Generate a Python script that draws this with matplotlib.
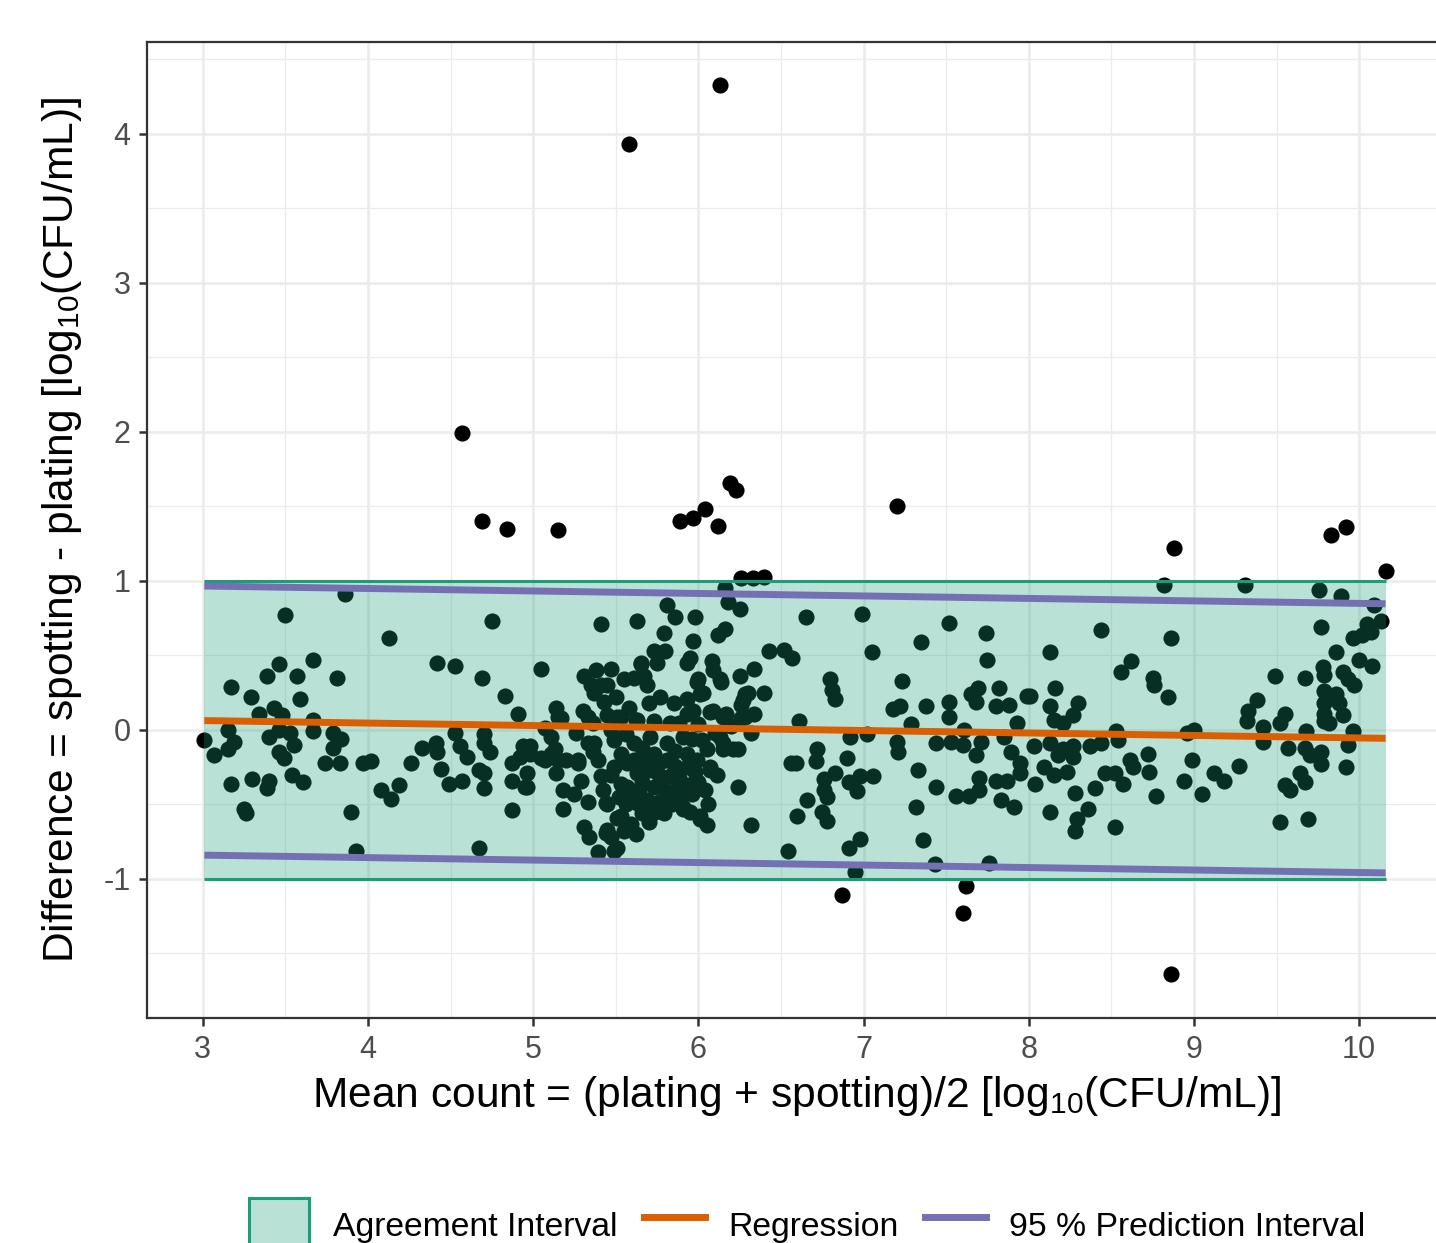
import numpy as np
import matplotlib
matplotlib.use("Agg")
import matplotlib.pyplot as plt
from matplotlib.patches import Patch
from matplotlib.lines import Line2D

plt.rcParams['font.family'] = ['Liberation Sans', 'DejaVu Sans']
plt.rcParams['mathtext.fontset'] = 'custom'
plt.rcParams['mathtext.rm'] = 'Liberation Sans'
plt.rcParams['mathtext.it'] = 'Liberation Sans'
plt.rcParams['axes.unicode_minus'] = False

# points: (mean count, difference)
outliers = [(6.13, 4.33), (5.58, 3.93), (4.57, 1.99), (4.69, 1.40), (4.84, 1.35), (5.15, 1.34),
            (5.89, 1.40), (5.97, 1.42), (6.04, 1.48), (6.12, 1.37), (6.19, 1.66), (6.23, 1.61),
            (7.20, 1.50), (8.88, 1.22), (9.83, 1.31), (9.92, 1.36), (10.16, 1.07), (6.87, -1.11),
            (7.60, -1.23), (7.62, -1.05), (8.86, -1.64), (6.26, 1.02), (6.33, 1.02), (6.40, 1.03)]

pts_3_to_45 = [(3.01, -0.07), (3.86, 0.91), (3.50, 0.77), (4.13, 0.62), (3.17, 0.29), (3.29, 0.22),
               (3.39, 0.36), (3.46, 0.44), (3.57, 0.36), (3.67, 0.47), (3.81, 0.35), (3.59, 0.21),
               (4.42, 0.45), (3.34, 0.11), (3.43, 0.15), (3.48, 0.10), (3.67, 0.07), (3.15, 0.00),
               (3.19, -0.08), (3.07, -0.17), (3.15, -0.13), (3.40, -0.05), (3.46, 0.00), (3.53, -0.02),
               (3.55, -0.10), (3.46, -0.15), (3.49, -0.19), (3.67, -0.01), (3.79, -0.02), (3.84, -0.06),
               (3.79, -0.12), (3.74, -0.22), (3.83, -0.22), (3.97, -0.22), (4.02, -0.21), (3.54, -0.30),
               (3.61, -0.35), (3.30, -0.33), (3.17, -0.36), (3.40, -0.34), (3.39, -0.39), (3.25, -0.53),
               (3.26, -0.56), (3.90, -0.55), (3.93, -0.81), (4.08, -0.40), (4.14, -0.46), (4.19, -0.37),
               (4.26, -0.22), (4.33, -0.12), (4.41, -0.09), (4.42, -0.15), (4.44, -0.26), (4.49, -0.36)]

pts_45_to_55 = [(4.75, 0.73), (5.41, 0.71), (4.53, 0.43), (4.69, 0.35), (5.05, 0.41), (4.83, 0.23),
                (4.91, 0.11), (5.14, 0.15), (5.15, 0.09), (5.31, 0.36), (5.38, 0.40), (5.47, 0.41),
                (5.41, 0.30), (5.43, 0.19), (5.30, 0.13), (5.26, -0.02), (5.07, 0.01), (5.11, -0.05),
                (4.53, -0.02), (4.56, -0.11), (4.70, -0.03), (4.70, -0.09), (4.74, -0.15), (4.60, -0.18),
                (4.67, -0.27), (4.70, -0.29), (4.57, -0.34), (4.70, -0.39), (4.87, -0.22), (4.92, -0.18),
                (4.98, -0.11), (4.96, -0.29), (4.87, -0.34), (4.95, -0.38), (4.87, -0.54), (4.67, -0.79),
                (5.11, -0.16), (5.05, -0.19), (5.14, -0.29), (5.20, -0.20), (5.27, -0.20), (5.33, -0.09),
                (5.18, -0.40), (5.18, -0.53), (5.33, -0.48), (5.45, -0.50), (5.31, -0.65), (5.34, -0.72),
                (5.44, -0.69), (5.39, -0.82), (5.49, -0.81), (5.51, -0.59), (5.37, 0.25), (5.17, 0.08),
                (5.33, 0.09), (5.45, 0.10), (4.94, -0.11), (4.98, -0.16), (5.13, -0.13), (5.15, -0.20),
                (5.07, -0.20), (4.96, -0.38), (5.27, -0.22), (5.29, -0.34), (5.25, -0.43), (5.37, -0.09),
                (5.39, -0.20), (5.41, -0.31), (5.44, -0.49), (5.45, -0.67), (5.49, -0.07), (5.53, -0.16),
                (5.49, -0.25), (5.53, -0.36), (5.53, -0.58), (5.35, 0.30), (5.45, 0.30), (5.50, 0.22),
                (5.36, 0.05), (5.47, 0.00), (5.36, -0.15), (5.42, -0.40), (5.47, -0.30)]

pts_55_to_65 = [(6.16, 0.95), (6.18, 0.86), (6.25, 0.81), (5.81, 0.84), (5.86, 0.76), (5.63, 0.73),
                (5.98, 0.76), (5.79, 0.65), (5.97, 0.60), (6.12, 0.64), (6.16, 0.68), (5.73, 0.53),
                (5.80, 0.53), (5.95, 0.48), (5.93, 0.45), (5.65, 0.45), (6.08, 0.46), (6.09, 0.40),
                (6.34, 0.41), (6.43, 0.53), (6.52, 0.54), (5.55, 0.34), (5.67, 0.36), (5.69, 0.30),
                (5.99, 0.32), (6.14, 0.32), (6.25, 0.36), (6.40, 0.25), (6.28, 0.24), (5.77, 0.22),
                (5.85, 0.18), (5.93, 0.21), (6.01, 0.24), (6.26, 0.17), (5.93, 0.11), (6.07, 0.12),
                (6.15, 0.09), (6.28, 0.09), (5.51, 0.09), (5.63, 0.07), (5.73, 0.06), (6.32, -0.02),
                (6.21, -0.13), (6.15, -0.09), (6.07, -0.27), (5.94, -0.37), (6.24, -0.38), (5.91, -0.53),
                (6.01, -0.58), (6.05, -0.64), (6.32, -0.64), (6.54, -0.81), (5.47, -0.72), (5.51, -0.79),
                (5.57, -0.65), (5.79, -0.56), (6.56, -0.22), (5.61, 0.35), (5.65, 0.44), (5.75, 0.45),
                (6.00, 0.34), (6.13, 0.34), (5.53, 0.09), (5.62, 0.07), (5.83, 0.05), (5.97, 0.13),
                (6.09, 0.13), (6.17, 0.11), (6.27, 0.20), (6.30, 0.25), (6.26, 0.08), (6.34, 0.11),
                (6.03, 0.25), (5.61, -0.09), (5.61, -0.20), (5.63, -0.29), (5.59, -0.43), (5.63, -0.49),
                (5.59, -0.63), (5.71, -0.05), (5.73, -0.16), (5.71, -0.27), (5.73, -0.38), (5.69, -0.47),
                (5.81, -0.09), (5.81, -0.20), (5.83, -0.31), (5.81, -0.43), (5.91, -0.05), (5.93, -0.16),
                (5.93, -0.25), (5.91, -0.52), (6.02, -0.07), (6.05, -0.13), (6.07, -0.25), (6.01, -0.60),
                (6.13, -0.05), (6.15, -0.13), (6.24, -0.13), (6.11, -0.30), (5.56, -0.03), (5.66, -0.12),
                (5.76, -0.22), (5.86, -0.14), (5.66, -0.35), (5.76, -0.30), (5.86, -0.40), (5.96, -0.43),
                (5.56, -0.50), (5.66, -0.56), (5.76, -0.48), (5.86, -0.24), (5.96, -0.06), (6.00, -0.35),
                (5.99, -0.20), (5.58, 0.15), (5.70, 0.18), (5.88, 0.05), (6.00, 0.04), (6.20, 0.03),
                (6.10, -0.02), (5.52, -0.45), (5.57, -0.22), (5.57, -0.38), (5.64, -0.40), (5.68, -0.20),
                (5.74, -0.55), (5.78, -0.38), (5.84, -0.50), (5.88, -0.32), (5.90, -0.43), (5.98, -0.28),
                (6.04, -0.40), (6.06, -0.50), (5.70, -0.62), (5.62, -0.70), (5.55, -0.68), (5.95, -0.55)]

pts_65_to_8 = [(6.65, 0.76), (6.99, 0.78), (6.57, 0.48), (7.05, 0.52), (7.35, 0.59), (7.52, 0.72),
               (7.74, 0.65), (7.75, 0.47), (6.80, 0.34), (6.81, 0.27), (6.83, 0.21), (7.23, 0.33),
               (7.18, 0.14), (7.22, 0.16), (7.38, 0.16), (7.52, 0.19), (7.52, 0.09), (7.65, 0.24),
               (7.69, 0.28), (7.68, 0.19), (7.82, 0.28), (7.80, 0.16), (7.88, 0.17), (7.99, 0.23),
               (7.93, 0.05), (6.61, 0.06), (7.29, 0.04), (6.92, -0.05), (7.02, -0.03), (7.20, -0.08),
               (7.21, -0.15), (7.44, -0.09), (7.53, -0.08), (7.60, -0.10), (7.61, 0.00), (7.71, -0.08),
               (7.68, -0.17), (7.85, -0.05), (7.89, -0.15), (8.03, -0.11), (7.95, -0.22), (6.72, -0.13),
               (6.71, -0.21), (6.59, -0.22), (6.90, -0.19), (6.76, -0.33), (6.83, -0.29), (6.91, -0.35),
               (6.98, -0.31), (7.06, -0.31), (6.96, -0.41), (6.76, -0.40), (6.78, -0.45), (6.66, -0.47),
               (6.75, -0.55), (6.78, -0.61), (6.60, -0.58), (7.33, -0.27), (7.44, -0.38), (7.32, -0.52),
               (7.56, -0.44), (7.64, -0.44), (7.70, -0.32), (7.70, -0.40), (7.80, -0.34), (7.87, -0.34),
               (7.95, -0.29), (8.04, -0.36), (7.83, -0.47), (7.91, -0.52), (6.91, -0.79), (6.98, -0.73),
               (6.95, -0.95), (7.36, -0.74), (7.43, -0.90), (7.76, -0.89)]

pts_8_to_92 = [(8.82, 0.97), (8.44, 0.67), (8.86, 0.62), (8.13, 0.52), (8.56, 0.39), (8.62, 0.46),
               (8.75, 0.35), (8.76, 0.30), (8.84, 0.22), (8.01, 0.23), (8.16, 0.28), (8.13, 0.16),
               (8.30, 0.18), (8.27, 0.10), (8.15, 0.07), (8.21, 0.05), (8.53, -0.01), (8.54, -0.07),
               (8.96, -0.02), (9.00, 0.00), (8.13, -0.09), (8.21, -0.13), (8.27, -0.11), (8.27, -0.18),
               (8.37, -0.11), (8.44, -0.09), (8.18, -0.17), (8.09, -0.25), (8.15, -0.30), (8.23, -0.28),
               (8.28, -0.42), (8.40, -0.39), (8.46, -0.29), (8.52, -0.29), (8.57, -0.36), (8.61, -0.20),
               (8.63, -0.25), (8.72, -0.16), (8.73, -0.28), (8.77, -0.44), (8.99, -0.20), (8.94, -0.34),
               (9.05, -0.43), (9.12, -0.29), (9.18, -0.34), (8.13, -0.55), (8.29, -0.60), (8.28, -0.68),
               (8.36, -0.53), (8.52, -0.65)]

pts_92_to_10 = [(9.31, 0.97), (9.76, 0.94), (9.89, 0.90), (10.09, 0.84), (10.13, 0.73), (10.05, 0.71),
                (10.07, 0.66), (9.96, 0.62), (10.02, 0.64), (9.77, 0.69), (9.86, 0.52), (10.00, 0.47),
                (10.08, 0.43), (9.78, 0.42), (9.79, 0.37), (9.90, 0.39), (9.93, 0.34), (9.97, 0.30),
                (9.49, 0.36), (9.67, 0.35), (9.79, 0.26), (9.86, 0.24), (9.79, 0.18), (9.88, 0.18),
                (9.79, 0.11), (9.90, 0.10), (9.82, 0.05), (9.79, 0.06), (9.38, 0.20), (9.33, 0.13),
                (9.32, 0.06), (9.55, 0.11), (9.52, 0.05), (9.42, 0.02), (9.42, -0.08), (9.68, -0.01),
                (9.96, -0.01), (9.57, -0.12), (9.67, -0.12), (9.70, -0.17), (9.77, -0.15), (9.93, -0.10),
                (9.77, -0.23), (9.92, -0.25), (9.27, -0.24), (9.55, -0.37), (9.58, -0.40), (9.64, -0.29),
                (9.67, -0.35), (9.52, -0.62), (9.69, -0.60)]

# fitted lines
reg_intercept = 0.1131
reg_slope = -0.01665
pi_halfwidth = 0.903
agree_lo, agree_hi = -1.0, 1.0

x_ticks = [3, 4, 5, 6, 7, 8, 9, 10]
y_ticks = [-1, 0, 1, 2, 3, 4]

green = '#1b9e77'
orange = '#d95f02'
purple = '#7570b3'

pts = np.array(outliers + pts_3_to_45 + pts_45_to_55 + pts_55_to_65
               + pts_65_to_8 + pts_8_to_92 + pts_92_to_10)
mean_count = pts[:, 0]
difference = pts[:, 1]

xr = np.array([mean_count.min(), mean_count.max()])
reg = reg_intercept + reg_slope * xr

fig = plt.figure(figsize=(14.36, 12.43), dpi=100)
ax = fig.add_axes([0.1024, 0.1810, 0.9039, 0.7852])

# points first, the agreement ribbon is laid over them
ax.scatter(mean_count, difference, s=135, color='black', linewidths=0, zorder=2)
ax.fill_between(xr, agree_lo, agree_hi, color=green, alpha=0.3, linewidth=0, zorder=3)
ax.plot(xr, [agree_hi, agree_hi], color=green, lw=2.2, zorder=4, solid_capstyle='butt')
ax.plot(xr, [agree_lo, agree_lo], color=green, lw=2.2, zorder=4, solid_capstyle='butt')
ax.plot(xr, reg, color=orange, lw=5, zorder=5, solid_capstyle='butt')
ax.plot(xr, reg + pi_halfwidth, color=purple, lw=5, zorder=5, solid_capstyle='butt')
ax.plot(xr, reg - pi_halfwidth, color=purple, lw=5, zorder=5, solid_capstyle='butt')

ax.set_xticks(x_ticks)
ax.set_yticks(y_ticks)
ax.set_xticks(np.arange(3.5, 10.6, 1), minor=True)
ax.set_yticks(np.arange(-1.5, 4.6, 1), minor=True)
ax.set_xlim(2.663, 10.52)
ax.set_ylim(-1.933, 4.617)
ax.grid(which='major', color='#ebebeb', lw=1.8, zorder=0)
ax.grid(which='minor', color='#ebebeb', lw=0.9, zorder=0)
ax.set_axisbelow(True)
ax.tick_params(which='minor', length=0)
ax.tick_params(which='major', length=6, width=1.8, color='#333333',
               labelcolor='#4d4d4d', labelsize=22, pad=6)
for s in ax.spines.values():
    s.set_color('#333333')
    s.set_linewidth(1.6)

ax.set_xlabel(r'Mean count = (plating + spotting)/2 [log$_{10}$(CFU/mL)]', fontsize=30.6, labelpad=7)
ax.set_ylabel(r'Difference = spotting - plating [log$_{10}$(CFU/mL)]', fontsize=30.6, labelpad=14)

handles = [Patch(facecolor=(27/255, 158/255, 119/255, 0.3), edgecolor=green, linewidth=2.2),
           Line2D([], [], color=orange, lw=5),
           Line2D([], [], color=purple, lw=5)]
labels = ['Agreement Interval', 'Regression', '95 % Prediction Interval']
fig.legend(handles, labels, loc='center', bbox_to_anchor=(0.5620, 0.0145), ncol=3,
           frameon=False, fontsize=24.3, handlelength=1.8, handleheight=2.05,
           handletextpad=0.7, columnspacing=0.78, borderpad=0)

fig.savefig('out.png', dpi=100)
